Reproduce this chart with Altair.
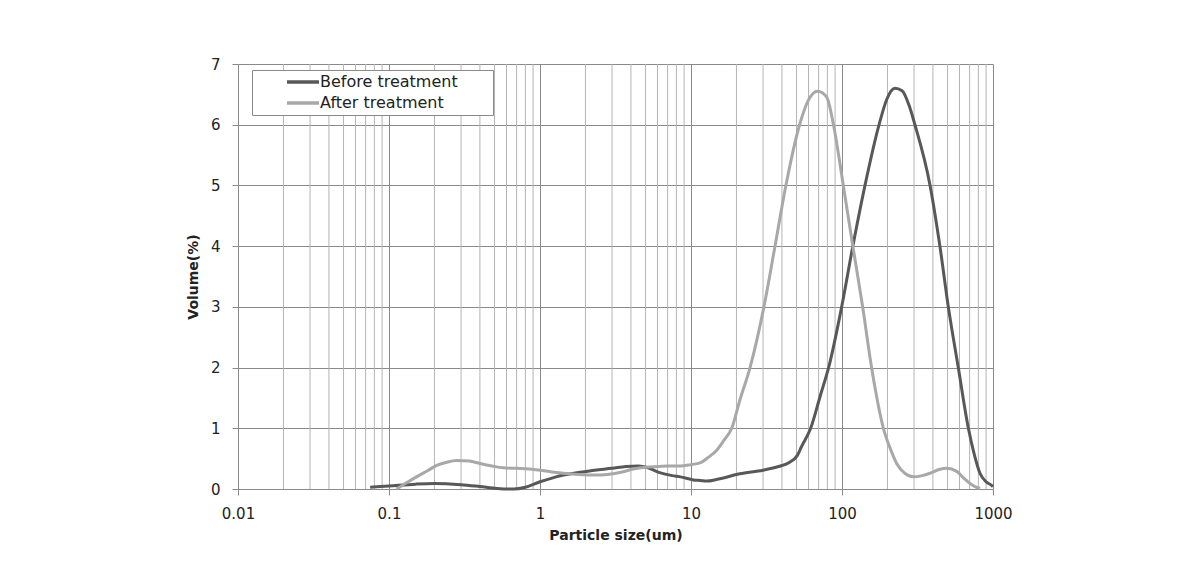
import altair as alt
import pandas as pd

# ---- data ----
before_x = [0.075, 0.1, 0.15, 0.2, 0.3, 0.4, 0.52, 0.67, 0.8, 1.0, 1.2, 1.43, 1.8, 2.3, 3.0, 3.7,
            4.5, 5.2, 6.2, 7.5, 8.5, 10.4, 11.5, 12.7, 15, 21, 30, 38, 45, 50.5, 54, 62, 71.5,
            82.5, 99.5, 118, 142, 176, 198, 224, 250, 278, 304, 383, 445, 506, 589, 687, 750, 820,
            900, 980, 1000]
before_y = [0.03, 0.05, 0.08, 0.09, 0.07, 0.04, 0.01, 0.0, 0.03, 0.12, 0.18, 0.23, 0.27, 0.31,
            0.34, 0.37, 0.38, 0.35, 0.27, 0.22, 0.2, 0.15, 0.14, 0.13, 0.16, 0.25, 0.31, 0.37,
            0.44, 0.55, 0.7, 1.0, 1.52, 2.05, 3.0, 4.0, 5.0, 6.0, 6.42, 6.6, 6.56, 6.32, 6.0, 5.0,
            4.0, 3.0, 2.0, 1.0, 0.58, 0.26, 0.12, 0.06, 0.04]

after_x = [0.112, 0.13, 0.152, 0.18, 0.207, 0.24, 0.28, 0.34, 0.4, 0.48, 0.57, 0.7, 0.85, 1.0,
           1.2, 1.43, 1.8, 2.3, 2.8, 3.5, 4.15, 5, 6, 7, 8.45, 9.9, 11.5, 13, 14.8, 16.5, 18.6,
           21.1, 24.6, 30.4, 36, 42.5, 52.4, 59.8, 69, 79, 87.8, 102, 118, 137, 157, 188, 210,
           230, 260, 296, 340, 383, 440, 494, 575, 640, 705, 760, 820]
after_y = [0.0, 0.1, 0.2, 0.3, 0.39, 0.44, 0.47, 0.46, 0.42, 0.38, 0.35, 0.34, 0.33, 0.31, 0.28,
           0.26, 0.24, 0.23, 0.24, 0.28, 0.33, 0.36, 0.37, 0.38, 0.38, 0.4, 0.43, 0.52, 0.64, 0.8,
           1.0, 1.47, 2.0, 3.0, 4.0, 5.0, 6.0, 6.4, 6.55, 6.46, 6.0, 5.0, 4.0, 3.0, 2.0, 1.0,
           0.65, 0.42, 0.26, 0.2, 0.22, 0.26, 0.32, 0.34, 0.29, 0.18, 0.09, 0.04, 0.01]

series_names = ["Before treatment", "After treatment"]
series_colors = ["#585858", "#a8a8a8"]

x_ticks = [0.01, 0.1, 1, 10, 100, 1000]
y_ticks = [0, 1, 2, 3, 4, 5, 6, 7]
minor_mult = [2, 3, 4, 5, 6, 7, 8, 9]
decades = [0.01, 0.1, 1, 10, 100]

rows = []
for xv, yv in zip(before_x, before_y):
    rows.append({"size": xv, "vol": yv, "series": series_names[0], "order": 0})
for xv, yv in zip(after_x, after_y):
    rows.append({"size": xv, "vol": yv, "series": series_names[1], "order": 1})
df = pd.DataFrame(rows)

minor = pd.DataFrame({"g": [d * m for d in decades for m in minor_mult]})

FONT = "DejaVu Sans"

xscale = alt.Scale(type="log", domain=[0.01, 1000], nice=False)
yscale = alt.Scale(domain=[0, 7], nice=False, zero=True)

x_axis = alt.Axis(values=x_ticks, format="~g", title="Particle size(um)",
                  grid=True, gridColor="#8a8a8a", gridWidth=1,
                  domainColor="#8a8a8a", tickColor="#8a8a8a", tickSize=6,
                  labelPadding=11, labelFontSize=15, labelColor="#222", labelFlush=False,
                  titleFontSize=14, titleFontWeight="bold", titlePadding=7,
                  titleColor="#222", labelFont=FONT, titleFont=FONT)
y_axis = alt.Axis(values=y_ticks, format="d", title="Volume(%)",
                  grid=True, gridColor="#8a8a8a", gridWidth=1,
                  domainColor="#8a8a8a", tickColor="#8a8a8a", tickSize=6,
                  labelPadding=12, labelFontSize=15, labelColor="#222", labelFlush=False,
                  titleFontSize=14, titleFontWeight="bold", titlePadding=10,
                  titleColor="#222", labelFont=FONT, titleFont=FONT)

grid_minor = alt.Chart(minor).mark_rule(color="#b4b4b4", strokeWidth=1).encode(
    x=alt.X("g:Q", scale=xscale, axis=x_axis, title="Particle size(um)")
)

pad = "\u00a0" * 6 + "\u200b"

lines = alt.Chart(df).mark_line(strokeWidth=3, interpolate="monotone").encode(
    x=alt.X("size:Q", scale=xscale, axis=x_axis, title="Particle size(um)"),
    y=alt.Y("vol:Q", scale=yscale, axis=y_axis, title="Volume(%)"),
    color=alt.Color("series:N", scale=alt.Scale(domain=series_names, range=series_colors),
                    sort=series_names,
                    legend=alt.Legend(title=None, orient="none", legendX=14, legendY=6,
                                      symbolType="M-3.2,0H3.2", symbolSize=100,
                                      symbolStrokeWidth=3.5, symbolOffset=39,
                                      labelFontSize=16, labelFont=FONT, labelColor="#222",
                                      labelOffset=9, rowPadding=5, labelLimit=400,
                                      strokeColor="#8a8a8a", fillColor="white",
                                      padding=4,
                                      labelExpr=f"datum.label + '{pad}'")),
    order="order:Q",
    detail="series:N",
)

chart = alt.layer(grid_minor, lines).properties(
    width=755, height=425,
    autosize=alt.AutoSizeParams(type="none"),
    padding={"left": 238, "top": 64, "right": 197, "bottom": 97},
    background="white",
).configure_view(stroke=None)

chart.save("out.html", embed_options={"renderer": "svg", "actions": False})
